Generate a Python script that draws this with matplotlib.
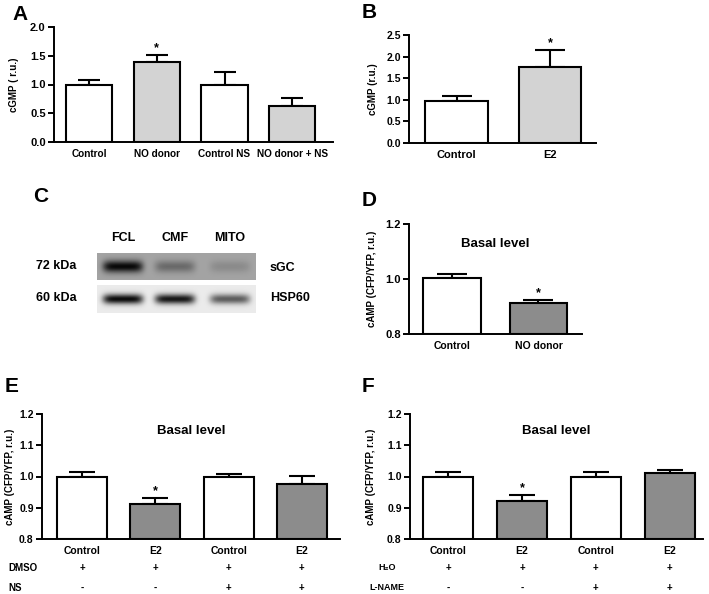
import numpy as np
import matplotlib
matplotlib.use('Agg')
import matplotlib.pyplot as plt
from matplotlib import transforms

plt.rcParams['font.family'] = ['Liberation Sans', 'DejaVu Sans']
plt.rcParams['font.weight'] = 'bold'
plt.rcParams['axes.labelweight'] = 'bold'

# ---------------- data ----------------
a_labels = ["Control", "NO donor", "Control NS", "NO donor + NS"]
a_means = [1.00, 1.39, 1.00, 0.63]
a_errs = [0.08, 0.13, 0.22, 0.13]
a_sig = [False, True, False, False]

b_labels = ["Control", "E2"]
b_means = [0.98, 1.75]
b_errs = [0.10, 0.40]
b_sig = [False, True]

c_lanes = ["FCL", "CMF", "MITO"]
c_sgc_density = [0.95, 0.35, 0.15]
c_hsp60_density = [0.95, 0.90, 0.60]

d_labels = ["Control", "NO donor"]
d_means = [1.002, 0.913]
d_errs = [0.018, 0.012]
d_sig = [False, True]

e_labels = ["Control", "E2", "Control", "E2"]
e_means = [1.000, 0.912, 0.998, 0.977]
e_errs = [0.014, 0.019, 0.011, 0.025]
e_sig = [False, True, False, False]
e_rows = ["DMSO", "NS"]
e_signs = [["+", "+", "+", "+"], ["-", "-", "+", "+"]]

f_labels = ["Control", "E2", "Control", "E2"]
f_means = [1.000, 0.923, 1.000, 1.012]
f_errs = [0.015, 0.017, 0.015, 0.009]
f_sig = [False, True, False, False]
f_rows = ["H\u2082O", "L-NAME"]
f_signs = [["+", "+", "+", "+"], ["-", "-", "+", "+"]]

LIGHT = '#d3d3d3'
DARK = '#8c8c8c'

W, H = 709, 594
fig = plt.figure(figsize=(W / 100, H / 100), dpi=100)


def add_ax(l, t, r, b):
    return fig.add_axes([l / W, 1 - b / H, (r - l) / W, (b - t) / H])


def ftext(x, y, s, **kw):
    fig.text(x / W, 1 - y / H, s, **kw)


def bar_panel(ax, box, labels, means, errs, sig, colors, ylim, yticks, fmt,
              xlim, width, ylabel, ylab_x, tick_fs, xlab_fs, capsize):
    l, t, r, b = box
    x = np.arange(len(means))
    lo = ylim[0]
    ax.errorbar(x, means, yerr=[np.zeros(len(errs)), errs], fmt='none',
                ecolor='black', elinewidth=1.5, capsize=capsize, capthick=1.5,
                zorder=2)
    ax.bar(x, np.array(means) - lo, bottom=lo, width=width, color=colors,
           edgecolor='black', linewidth=1.5, zorder=3)
    for xi, m, e, s in zip(x, means, errs, sig):
        if s:
            ax.annotate('*', (xi, m + e), xytext=(0, 0.5),
                        textcoords='offset points', ha='center', va='bottom',
                        fontsize=9, fontweight='bold')
    ax.set_xlim(*xlim)
    ax.set_ylim(*ylim)
    ax.set_yticks(yticks)
    ax.set_yticklabels([fmt.format(v) for v in yticks])
    ax.set_xticks(x)
    ax.set_xticklabels(labels)
    for sp in ['top', 'right']:
        ax.spines[sp].set_visible(False)
    for sp in ['left', 'bottom']:
        ax.spines[sp].set_linewidth(1.4)
    ax.tick_params(axis='y', direction='out', length=4, width=1.4,
                   labelsize=tick_fs, pad=2)
    ax.tick_params(axis='x', length=0, labelsize=xlab_fs, pad=5)
    ax.set_ylabel(ylabel, fontsize=7, fontweight='bold')
    ax.yaxis.set_label_coords((ylab_x - l) / (r - l), 0.5)


# ---------------- Panel A ----------------
boxA = (54, 27, 333, 142)
axA = add_ax(*boxA)
bar_panel(axA, boxA, a_labels, a_means, a_errs, a_sig,
          ['white', LIGHT, 'white', LIGHT], (0, 2.0),
          [0, 0.5, 1.0, 1.5, 2.0], '{:.1f}', (-0.516, 3.6), 0.68,
          'cGMP ( r.u.)', 19, 8, 7.2, 8)
ftext(12, 14, 'A', fontsize=15, fontweight='bold', va='center')

# ---------------- Panel B ----------------
boxB = (409, 35, 596, 143)
axB = add_ax(*boxB)
bar_panel(axB, boxB, b_labels, b_means, b_errs, b_sig, ['white', LIGHT],
          (0, 2.5), [0, 0.5, 1.0, 1.5, 2.0, 2.5], '{:.1f}', (-0.508, 1.49),
          0.67, 'cGMP (r.u.)', 378, 7.5, 8, 11)
ftext(362, 12, 'B', fontsize=15, fontweight='bold', va='center')

# ---------------- Panel C (western blot) ----------------
ftext(33, 197, 'C', fontsize=15, fontweight='bold', va='center')
lane_x = [123, 175, 230]
blot_l, blot_r = 97, 256


def blot(top, bottom, bg, dens, half_w, half_h):
    axb = add_ax(blot_l, top, blot_r, bottom)
    w = blot_r - blot_l
    h = bottom - top
    xx, yy = np.meshgrid(np.arange(w) + 0.5, np.arange(h) + 0.5)
    img = np.full((h, w), bg)
    yc = h / 2
    for cx, d in zip(lane_x, dens):
        cx = cx - blot_l
        prof = np.exp(-((xx - cx) / half_w) ** 6) * np.exp(-((yy - yc) / half_h) ** 2)
        img = img * (1 - d * prof)
    axb.imshow(img, cmap='gray', vmin=0, vmax=1, aspect='auto',
               interpolation='bilinear')
    axb.set_axis_off()


blot(253, 280, 0.64, c_sgc_density, 20, 6)
blot(285, 313, 0.92, c_hsp60_density, 20, 5)
for lx, name in zip(lane_x, c_lanes):
    ftext(lx, 238, name, fontsize=9, fontweight='bold', ha='center', va='center')
ftext(36, 266, '72 kDa', fontsize=9, fontweight='bold', va='center')
ftext(36, 298, '60 kDa', fontsize=9, fontweight='bold', va='center')
ftext(270, 268, 'sGC', fontsize=9, fontweight='bold', va='center')
ftext(270, 298, 'HSP60', fontsize=9, fontweight='bold', va='center')

# ---------------- Panel D ----------------
boxD = (409, 224, 582, 334)
axD = add_ax(*boxD)
bar_panel(axD, boxD, d_labels, d_means, d_errs, d_sig, ['white', DARK],
          (0.8, 1.2), [0.8, 1.0, 1.2], '{:.1f}', (-0.497, 1.503), 0.67,
          'cAMP (CFP/YFP, r.u.)', 377, 8, 7.5, 11)
axD.text(0.5, 0.82, 'Basal level', transform=axD.transAxes, ha='center',
         va='center', fontsize=9.5, fontweight='bold')
ftext(362, 200, 'D', fontsize=15, fontweight='bold', va='center')

# ---------------- Panel E ----------------
boxE = (42, 414, 340, 539)
axE = add_ax(*boxE)
bar_panel(axE, boxE, e_labels, e_means, e_errs, e_sig,
          ['white', DARK, 'white', DARK], (0.8, 1.2),
          [0.8, 0.9, 1.0, 1.1, 1.2], '{:.1f}', (-0.546, 3.52), 0.68,
          'cAMP (CFP/YFP, r.u.)', 15, 7.5, 7.5, 9.5)
axE.text(0.5, 0.86, 'Basal level', transform=axE.transAxes, ha='center',
         va='center', fontsize=9.5, fontweight='bold')
ftext(5, 386, 'E', fontsize=15, fontweight='bold', va='center')
trE = transforms.blended_transform_factory(axE.transData, fig.transFigure)
for ri, (rname, signs) in enumerate(zip(e_rows, e_signs)):
    ypx = 568 + 20 * ri
    ftext(8, ypx, rname, fontsize=7, fontweight='bold', va='center')
    for xi, s in enumerate(signs):
        axE.text(xi, 1 - ypx / H, s, transform=trE, ha='center', va='center',
                 fontsize=7, fontweight='bold')

# ---------------- Panel F ----------------
boxF = (410, 414, 703, 539)
axF = add_ax(*boxF)
bar_panel(axF, boxF, f_labels, f_means, f_errs, f_sig,
          ['white', DARK, 'white', DARK], (0.8, 1.2),
          [0.8, 0.9, 1.0, 1.1, 1.2], '{:.1f}', (-0.515, 3.45), 0.68,
          'cAMP (CFP/YFP, r.u.)', 376, 7.5, 7.5, 9.5)
axF.text(0.5, 0.86, 'Basal level', transform=axF.transAxes, ha='center',
         va='center', fontsize=9.5, fontweight='bold')
ftext(362, 386, 'F', fontsize=15, fontweight='bold', va='center')
trF = transforms.blended_transform_factory(axF.transData, fig.transFigure)
for ri, (rname, signs) in enumerate(zip(f_rows, f_signs)):
    ypx = 568 + 20 * ri
    ftext(387, ypx, rname, fontsize=6.5, fontweight='bold', ha='center',
          va='center')
    for xi, s in enumerate(signs):
        axF.text(xi, 1 - ypx / H, s, transform=trF, ha='center', va='center',
                 fontsize=7, fontweight='bold')

fig.savefig('out.png', dpi=100)
